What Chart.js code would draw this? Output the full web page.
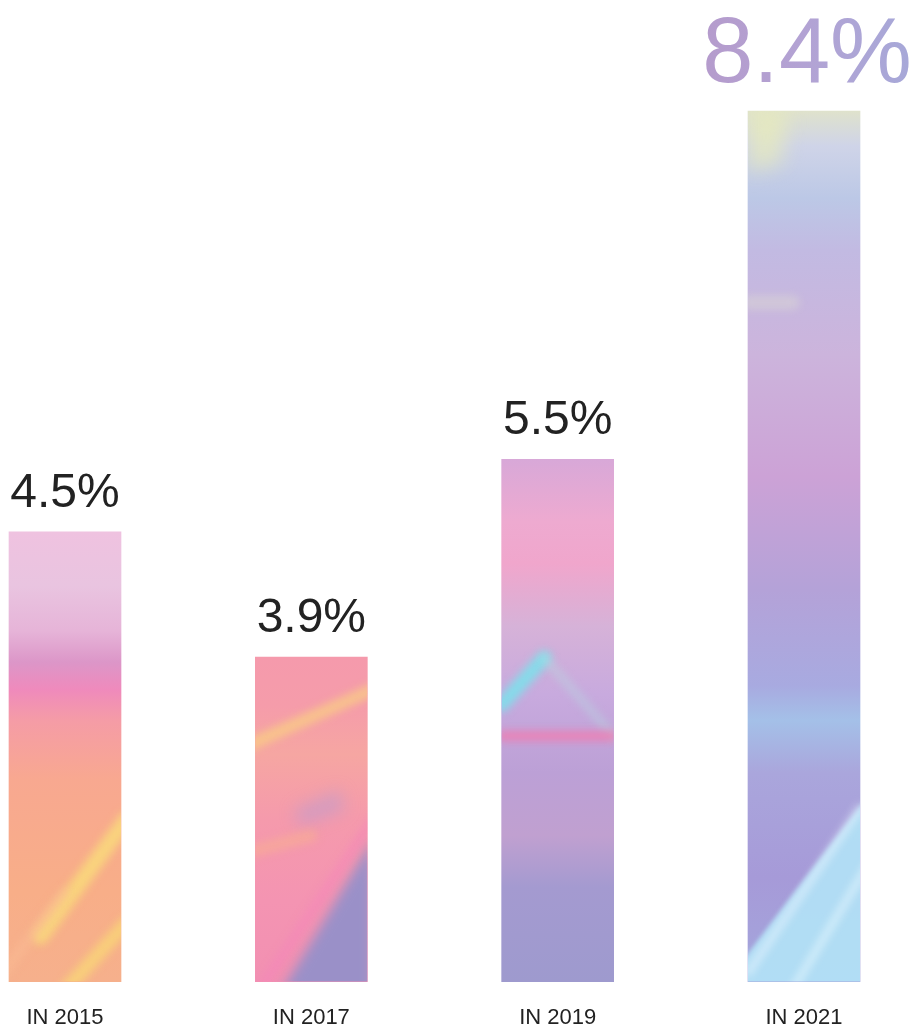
<!DOCTYPE html>
<html>
<head>
<meta charset="utf-8">
<title>Share over the years</title>
<script src="https://cdn.jsdelivr.net/npm/chart.js@4.4.1/dist/chart.umd.min.js"></script>
<style>
  html, body { margin: 0; padding: 0; background: #fff; }
  #wrap { width: 920px; height: 1034px; position: relative; }
</style>
</head>
<body>
<div id="wrap"><canvas id="chart"></canvas></div>
<script>
// categories and values
const years = ["IN 2015", "IN 2017", "IN 2019", "IN 2021"];
const shares = [4.5, 3.9, 5.5, 8.4];
const shareLabels = ["4.5%", "3.9%", "5.5%", "8.4%"];
// bar lengths as drawn (the artwork is not to scale with the labels)
const barLengths = [4.34, 3.13, 5.04, 8.4];

// holographic fills, top -> bottom
const fills = [
  [[0, "#efc2e0"], [0.12, "#e9c4e0"], [0.22, "#e6b4d8"], [0.29, "#dc96c8"], [0.35, "#ef8abc"], [0.42, "#f59ca6"], [0.55, "#f8a890"], [0.8, "#f8ae88"], [1, "#f6b08c"]],
  [[0, "#f59aac"], [0.15, "#f59caa"], [0.3, "#f6a6a2"], [0.5, "#f59aac"], [0.75, "#f494b2"], [1, "#f290b2"]],
  [[0, "#d8a8d8"], [0.12, "#eeaad0"], [0.2, "#f0a6cc"], [0.32, "#d6b2d8"], [0.45, "#c8aade"], [0.6, "#bca0d6"], [0.72, "#c0a0d0"], [0.82, "#a49ad0"], [1, "#9e9ace"]],
  [[0, "#dfe2cc"], [0.04, "#cfd4e8"], [0.1, "#bcc8e6"], [0.16, "#c2bae2"], [0.28, "#ccb4dc"], [0.42, "#cca2d6"], [0.55, "#b4a2d8"], [0.66, "#a8aae0"], [0.7, "#a4c0e8"], [0.76, "#aaa6dc"], [0.88, "#a69ad8"], [1, "#a4a6dc"]]
];

// soft patches inside each bar: [polygon points as fractions of the bar, colour, blur]
const patches = [
  [],
  [
    [[[0.2, 1.05], [1.05, 0.56], [1.05, 1.05]], "#9a90c8", 6],
    [[[0.35, 0.47], [0.75, 0.41], [0.8, 0.47], [0.4, 0.52]], "rgba(180,156,214,0.5)", 8]
  ],
  [],
  [
    [[[-0.05, 0.976], [1.05, 0.79], [1.05, 1.05], [-0.05, 1.05]], "rgba(178,226,246,0.92)", 2],
    [[[0, 0], [0.35, 0], [0.3, 0.06], [0, 0.07]], "rgba(236,240,176,0.6)", 10]
  ]
];

// streaks drawn inside each bar: [x0, y0, x1, y1] as fractions of the bar, width, colour
const streaks = [
  [[0.28, 0.9, 1.05, 0.64, 16, "rgba(250,228,120,0.7)"], [0.5, 1.02, 1.05, 0.87, 14, "rgba(250,226,112,0.6)"], [-0.05, 0.98, 0.5, 0.8, 10, "rgba(252,190,150,0.5)"]],
  [[-0.05, 0.27, 1.05, 0.1, 12, "rgba(250,215,125,0.65)"], [-0.05, 0.6, 0.5, 0.55, 12, "rgba(250,180,140,0.5)"], [0.05, 1.02, 1.05, 0.5, 8, "rgba(245,130,190,0.5)"]],
  [[0.0, 0.47, 0.38, 0.38, 14, "rgba(120,228,236,0.85)"], [0.38, 0.38, 1.0, 0.53, 8, "rgba(180,225,225,0.4)"], [0.0, 0.53, 1.0, 0.53, 10, "rgba(244,120,172,0.8)"]],
  [[0.0, 0.22, 0.4, 0.22, 14, "rgba(230,232,205,0.35)"], [0.0, 0.99, 1.0, 0.8, 6, "rgba(235,245,255,0.7)"], [0.3, 1.03, 1.1, 0.86, 6, "rgba(235,250,255,0.7)"]]
];

const streakPlugin = {
  id: "streaks",
  afterDatasetsDraw(chart) {
    const ctx = chart.ctx;
    chart.getDatasetMeta(0).data.forEach((bar, i) => {
      const left = bar.x - bar.width / 2;
      const top = bar.y;
      const h = bar.base - bar.y;
      const w = bar.width;
      ctx.save();
      ctx.beginPath();
      ctx.rect(left, top, w, h);
      ctx.clip();
      patches[i].forEach(p => {
        ctx.filter = "blur(" + p[2] + "px)";
        ctx.fillStyle = p[1];
        ctx.beginPath();
        p[0].forEach((pt, k) => {
          const px = left + pt[0] * w, py = top + pt[1] * h;
          if (k === 0) ctx.moveTo(px, py); else ctx.lineTo(px, py);
        });
        ctx.closePath();
        ctx.fill();
      });
      ctx.filter = "blur(4px)";
      ctx.lineCap = "round";
      streaks[i].forEach(s => {
        ctx.strokeStyle = s[5];
        ctx.lineWidth = s[4];
        ctx.beginPath();
        ctx.moveTo(left + s[0] * w, top + s[1] * h);
        ctx.lineTo(left + s[2] * w, top + s[3] * h);
        ctx.stroke();
      });
      ctx.restore();
    });
  }
};

const valueLabels = {
  id: "valueLabels",
  afterDatasetsDraw(chart) {
    const ctx = chart.ctx;
    chart.getDatasetMeta(0).data.forEach((bar, i) => {
      const big = i === shares.indexOf(Math.max(...shares));
      const size = big ? 92 : 48;
      ctx.save();
      ctx.font = size + 'px "Liberation Sans", Arial, sans-serif';
      ctx.textAlign = "center";
      ctx.textBaseline = "alphabetic";
      if (big) {
        const tw = ctx.measureText(shareLabels[i]).width;
        const g = ctx.createLinearGradient(bar.x - tw / 2, 0, bar.x + tw / 2, 0);
        g.addColorStop(0, "#b59bcc");
        g.addColorStop(0.5, "#b3a3d4");
        g.addColorStop(1, "#a7a8d8");
        ctx.fillStyle = g;
      } else {
        ctx.fillStyle = "#222222";
      }
      ctx.fillText(shareLabels[i], bar.x + (big ? 3 : 0), bar.y - (big ? 29 : 25));
      ctx.restore();
    });
  }
};

function barFill(context) {
  const chart = context.chart;
  const i = context.dataIndex;
  if (!chart.chartArea) return fills[i][0][1];
  const y = chart.scales.y;
  const g = chart.ctx.createLinearGradient(0, y.getPixelForValue(barLengths[i]), 0, y.getPixelForValue(0));
  fills[i].forEach(s => g.addColorStop(s[0], s[1]));
  return g;
}

new Chart(document.getElementById("chart"), {
  type: "bar",
  data: {
    labels: years,
    datasets: [{
      data: barLengths,
      backgroundColor: barFill,
      borderWidth: 0,
      barThickness: 112,
      clip: false
    }]
  },
  options: {
    responsive: true,
    maintainAspectRatio: false,
    animation: false,
    layout: { padding: { left: 65, right: 116, top: 111, bottom: -20 } },
    plugins: { legend: { display: false }, tooltip: { enabled: false } },
    scales: {
      x: {
        offset: false,
        grid: { display: false, drawTicks: false },
        border: { display: false },
        ticks: {
          color: "#222222",
          padding: 23,
          maxRotation: 0,
          font: { family: '"Liberation Sans", Arial, sans-serif', size: 22 }
        }
      },
      y: { display: false, min: 0, max: 8.4 }
    }
  },
  plugins: [streakPlugin, valueLabels]
});
</script>
</body>
</html>
